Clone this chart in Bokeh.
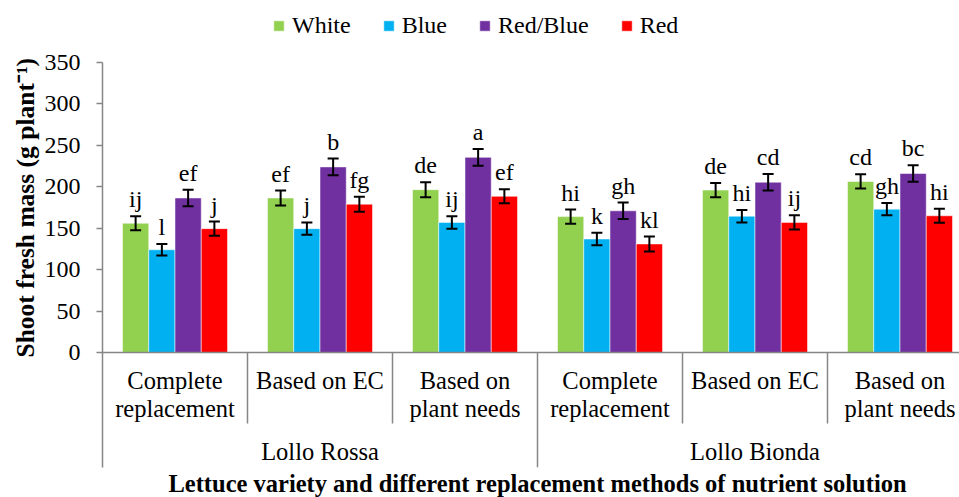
from bokeh.plotting import figure
from bokeh.models import (ColumnDataSource, FixedTicker, Legend, LegendItem,
                          Whisker, TeeHead, Span, Title, Range1d)
from bokeh.core.properties import value
from bokeh.embed import file_html
from bokeh.resources import INLINE

# ---- data -------------------------------------------------------------
varieties = ["Lollo Rossa", "Lollo Bionda"]
methods = [("Complete", "replacement"), ("Based on EC", ""), ("Based on", "plant needs")]
series = ["White", "Blue", "Red/Blue", "Red"]
colors = ["#92D050", "#00B0F0", "#7030A0", "#FF0000"]

white = [156, 186.5, 196.5, 164, 196, 206.5]
blue = [124, 149.5, 157, 137, 164.5, 173]
red_blue = [186.5, 224, 235.5, 171, 205.5, 216]
red = [149.5, 179, 188.5, 131, 157, 165]

white_err = [8.5, 9, 9, 8.5, 8.5, 8.5]
blue_err = [7, 7.5, 7.5, 7.5, 7.5, 7.5]
red_blue_err = [10, 10, 10, 10, 10, 10]
red_err = [8.5, 9, 8.5, 9, 8.5, 8.5]

white_letters = ["ij", "ef", "de", "hi", "de", "cd"]
blue_letters = ["l", "j", "ij", "k", "hi", "gh"]
red_blue_letters = ["ef", "b", "a", "gh", "cd", "bc"]
red_letters = ["j", "fg", "ef", "kl", "ij", "hi"]

y_ticks = [0, 50, 100, 150, 200, 250, 300, 350]

values_all = [white, blue, red_blue, red]
errs_all = [white_err, blue_err, red_blue_err, red_err]
letters_all = [white_letters, blue_letters, red_blue_letters, red_letters]

# ---- layout constants ----------------------------------------------------
W, H = 959, 497
FRAME_LEFT, AXIS_TOP, FRAME_BOTTOM = 102, 62, 467
ZERO_PX = 352
GROUP_PX = 145
BAR_W = 26.25 / GROUP_PX
FONT = "Liberation Serif"
AXIS_GREY = "#868686"
TEXT_SHIFT = 8.5      # px: anchor sits this far above the wanted baseline

n_groups = len(varieties) * len(methods)
units_per_px = 350 / (ZERO_PX - AXIS_TOP)
y_start = -(FRAME_BOTTOM - ZERO_PX) * units_per_px
y_end = 350 + AXIS_TOP * units_per_px          # frame reaches the top edge (legend room)
x_end = -0.5 + (W - FRAME_LEFT) / GROUP_PX


def px_to_y(py):
    """Data y for a pixel row below the zero line."""
    return -(py - ZERO_PX) * units_per_px


p = figure(width=W, height=H, output_backend="svg", toolbar_location=None,
           x_range=Range1d(-0.5, x_end), y_range=Range1d(y_start, y_end),
           x_axis_location=None,
           min_border_left=FRAME_LEFT, min_border_right=0,
           min_border_top=0, min_border_bottom=H - FRAME_BOTTOM)
p.outline_line_color = None
p.grid.visible = False

# ---- y axis --------------------------------------------------------------
ax = p.yaxis[0]
ax.ticker = FixedTicker(ticks=y_ticks)
ax.bounds = (y_start, 350)
ax.axis_line_color = AXIS_GREY
ax.axis_line_width = 1.5
ax.major_tick_line_color = AXIS_GREY
ax.major_tick_line_width = 1.5
ax.major_tick_out = 6
ax.major_tick_in = 0
ax.minor_tick_line_color = None
ax.major_label_standoff = 16
ax.major_label_text_font = FONT
ax.major_label_text_font_size = "24px"
ax.major_label_text_color = "black"

# baseline of the bars
p.add_layout(Span(location=0, dimension="width", line_color=AXIS_GREY, line_width=1.5))

# ---- bars, error bars and letters -----------------------------------------
legend_items = []
for k, name in enumerate(series):
    xs = [g + (k - 1.5) * BAR_W for g in range(n_groups)]
    vals = values_all[k]
    errs = errs_all[k]
    src = ColumnDataSource(dict(
        x=xs, top=vals,
        upper=[v + e for v, e in zip(vals, errs)],
        lower=[v - e for v, e in zip(vals, errs)],
        letter=letters_all[k],
    ))
    r = p.vbar(x="x", top="top", bottom=0, width=BAR_W, source=src,
               fill_color=colors[k], line_color="white", line_alpha=0.5, line_width=1)
    legend_items.append(LegendItem(label=name, renderers=[r]))
    p.add_layout(Whisker(source=src, base="x", upper="upper", lower="lower",
                         line_color="black", line_width=2, level="annotation",
                         upper_head=TeeHead(size=11, line_width=2, line_color="black"),
                         lower_head=TeeHead(size=11, line_width=2, line_color="black")))
    p.text(x="x", y="upper", text="letter", source=src, text_align="center",
           text_baseline="alphabetic", y_offset=-(8.5 + TEXT_SHIFT), text_color="black",
           text_font=value(FONT), text_font_size="24px")

# ---- category labels and separators ---------------------------------------
line1_y = px_to_y(388 - TEXT_SHIFT)
line2_y = px_to_y(416.5 - TEXT_SHIFT)
variety_y = px_to_y(459.5 - TEXT_SHIFT)
inner_sep_y = px_to_y(423)

gx, l1, l2 = [], [], []
for vi in range(len(varieties)):
    for mi, (a, b) in enumerate(methods):
        gx.append(vi * len(methods) + mi)
        l1.append(a)
        l2.append(b)
p.text(x=gx, y=[line1_y] * len(gx), text=l1, text_align="center", text_baseline="alphabetic",
       text_font=value(FONT), text_font_size="24.5px", text_color="black")
p.text(x=gx, y=[line2_y] * len(gx), text=l2, text_align="center", text_baseline="alphabetic",
       text_font=value(FONT), text_font_size="24.5px", text_color="black")

vx = [vi * len(methods) + (len(methods) - 1) / 2 for vi in range(len(varieties))]
p.text(x=vx, y=[variety_y] * len(vx), text=varieties, text_align="center",
       text_baseline="alphabetic", text_font=value(FONT), text_font_size="24.5px",
       text_color="black")

sep_x, sep_bottom = [], []
for i in range(1, n_groups + 1):
    sep_x.append(i - 0.5)
    sep_bottom.append(y_start if i % len(methods) == 0 else inner_sep_y)
p.segment(x0=sep_x, y0=[0] * len(sep_x), x1=sep_x, y1=sep_bottom,
          line_color=AXIS_GREY, line_width=1.5)

# ---- titles ----------------------------------------------------------------
p.add_layout(Title(text="Lettuce variety and different replacement methods of nutrient solution",
                   align="left", offset=66, text_font=FONT, text_font_size="24.5px",
                   text_font_style="bold", text_color="black", standoff=0), "below")
p.add_layout(Title(text="Shoot fresh mass (g plant\u207b\u00b9)", align="left", offset=110,
                   text_font=FONT, text_font_size="25.5px", text_font_style="bold",
                   text_color="black", standoff=4), "left")

# ---- legend ------------------------------------------------------------------
frame_h = FRAME_BOTTOM
legend = Legend(items=legend_items, orientation="horizontal",
                location=(170, frame_h - 39), glyph_width=13, glyph_height=13,
                label_standoff=7, spacing=31, padding=0, margin=0,
                label_text_font=FONT, label_text_font_size="24px",
                label_text_color="black", border_line_color=None,
                background_fill_alpha=0)
p.add_layout(legend, "center")

open("out.html", "w").write(file_html(p, INLINE))
